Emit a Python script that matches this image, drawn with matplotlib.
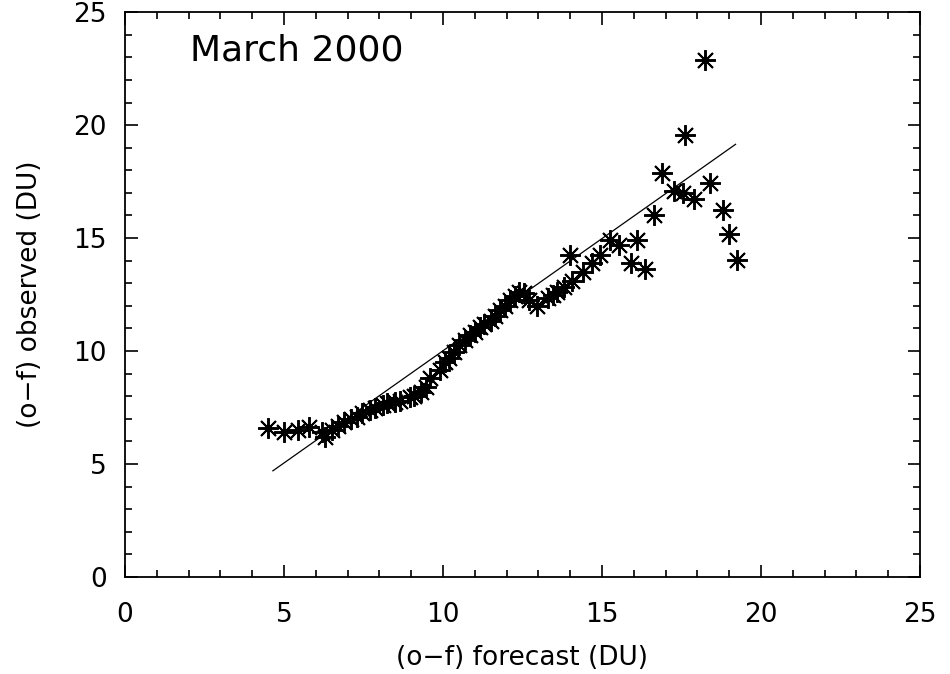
import matplotlib
matplotlib.use("Agg")
import matplotlib.pyplot as plt
from matplotlib.ticker import MultipleLocator

# binned (o-f) values, March 2000
forecast = [4.5, 5.0, 5.45, 5.8, 6.2, 6.3, 6.5, 6.7, 6.9, 7.1, 7.3, 7.45,
            7.7, 7.85, 8.1, 8.25, 8.5, 8.65, 8.95, 9.1, 9.3, 9.45, 9.6, 9.9,
            10.05, 10.2, 10.35, 10.5, 10.7, 10.85, 11.0, 11.15, 11.3, 11.5,
            11.65, 11.8, 11.95, 12.1, 12.25, 12.4, 12.55, 12.7, 12.95, 13.3,
            13.45, 13.6, 13.8, 14.0, 14.05, 14.4, 14.7, 14.95, 15.25, 15.55,
            15.9, 16.1, 16.35, 16.65, 16.9, 17.25, 17.6, 17.55, 17.9, 18.4,
            18.25, 18.8, 19.0, 19.25]
observed = [6.6, 6.4, 6.5, 6.65, 6.4, 6.2, 6.5, 6.7, 6.85, 7.0, 7.1, 7.25,
            7.4, 7.5, 7.6, 7.7, 7.75, 7.8, 7.95, 8.0, 8.2, 8.4, 8.8, 9.15,
            9.5, 9.7, 9.95, 10.25, 10.5, 10.7, 10.85, 11.05, 11.2, 11.35,
            11.55, 11.8, 12.0, 12.25, 12.45, 12.6, 12.55, 12.25, 12.0, 12.35,
            12.5, 12.6, 12.85, 14.25, 13.1, 13.5, 13.9, 14.25, 14.9, 14.7,
            13.9, 14.9, 13.65, 16.0, 17.9, 17.1, 19.55, 17.0, 16.75, 17.45,
            22.9, 16.25, 15.2, 14.05]

# fitted line end points
fit_x = [4.65, 19.2]
fit_y = [4.7, 19.15]

fig = plt.figure(figsize=(9.5, 6.74), dpi=100)
ax = fig.add_axes([0.1316, 0.1439, 0.8368, 0.8381])

ax.plot(forecast, observed, linestyle="none", marker=(8, 2, 0),
        markersize=15, markeredgewidth=1.4, color="black")
ax.plot(fit_x, fit_y, color="black", lw=0.9)

ax.set_xlim(0, 25)
ax.set_ylim(0, 25)
ax.xaxis.set_major_locator(MultipleLocator(5))
ax.xaxis.set_minor_locator(MultipleLocator(1))
ax.yaxis.set_major_locator(MultipleLocator(5))
ax.yaxis.set_minor_locator(MultipleLocator(1))
ax.tick_params(which="both", direction="in", top=True, right=True,
               width=1.2, color="black")
ax.tick_params(which="major", length=9)
ax.tick_params(which="minor", length=5)
ax.tick_params(axis="x", which="major", pad=18, labelsize=19)
ax.tick_params(axis="y", which="major", pad=13, labelsize=19)
for sp in ax.spines.values():
    sp.set_linewidth(1.3)

ax.set_xlabel("(o\u2212f) forecast (DU)", fontsize=19, labelpad=12)
ax.set_ylabel("(o\u2212f) observed (DU)", fontsize=19, labelpad=22)
ax.text(2.05, 23.3, "March 2000", fontsize=26, va="center", ha="left")

fig.savefig("out.png", dpi=100)
